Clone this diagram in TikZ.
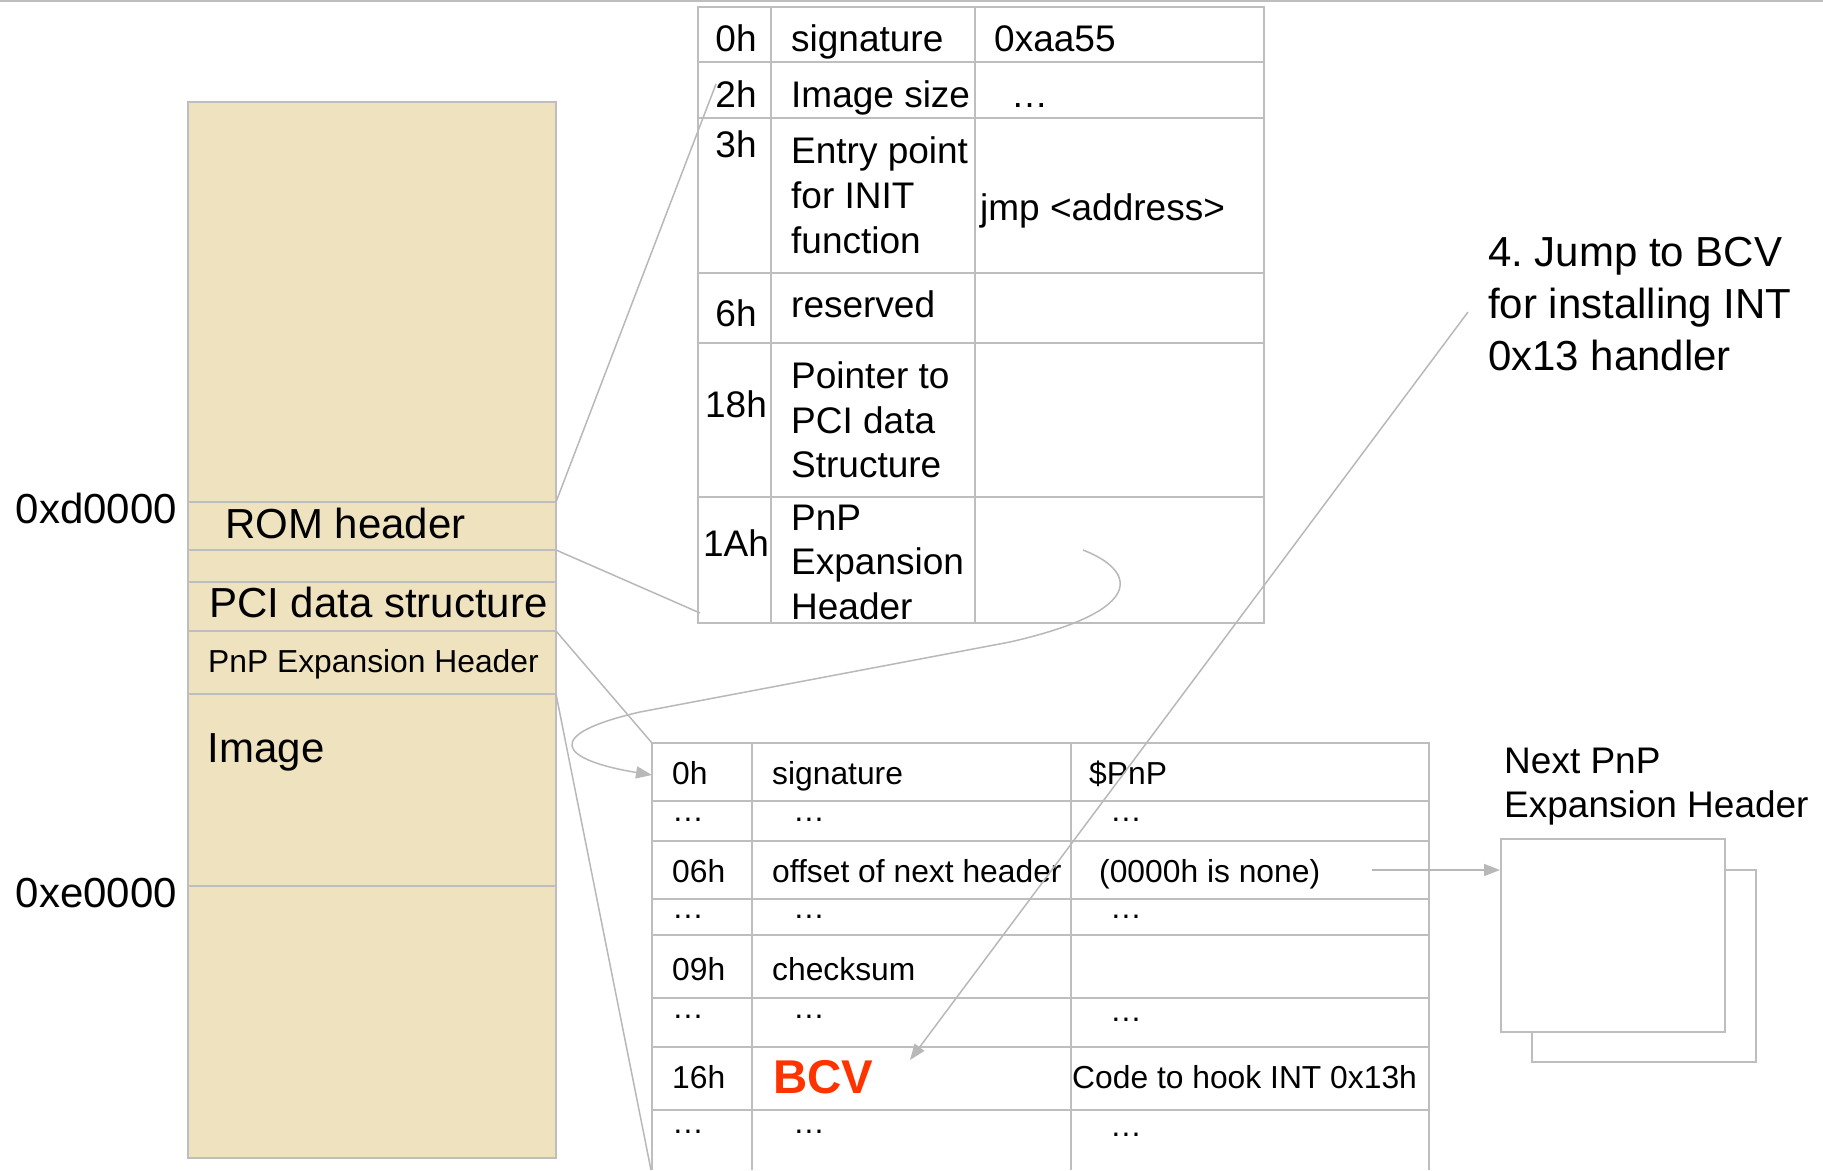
\documentclass[tikz,border=0pt]{standalone}
\usepackage{fontspec}
\setmainfont{Liberation Sans}
\usetikzlibrary{arrows.meta}
\frenchspacing

\definecolor{romtan}{RGB}{239,226,191}
\definecolor{gridgray}{RGB}{190,190,190}
\definecolor{conngray}{RGB}{184,184,184}
\definecolor{bcvred}{RGB}{255,51,0}

\tikzset{
  grid/.style={draw=gridgray, line width=1.7pt},
  conn/.style={draw=conngray, line width=1.5pt},
  tip/.style={-{Triangle[length=16pt,width=12pt,fill=conngray]}},
  txtL/.style={anchor=base west, inner sep=0pt, font=\fontsize{42}{52}\selectfont},
  txtM/.style={anchor=base west, inner sep=0pt, font=\fontsize{37}{45}\selectfont},
  txtMc/.style={anchor=base, inner sep=0pt, font=\fontsize{37}{45}\selectfont},
  txtS/.style={anchor=base west, inner sep=0pt, font=\fontsize{31.8}{38}\selectfont},
}

\begin{document}
\begin{tikzpicture}[x=1pt, y=-1pt]
\useasboundingbox (0,0) rectangle (1823,1170);

% frame line along the top
\draw[grid] (0,1) -- (1823,1);

% ---------- memory map column ----------
\fill[romtan] (188,102) rectangle (556,1158);
\draw[grid] (188,102) rectangle (556,1158);
\foreach \yy in {502,550,582,631,694,886}
  \draw[grid] (188,\yy) -- (556,\yy);

\coordinate (rom-top) at (556,502);
\coordinate (rom-bot) at (556,550);
\coordinate (pnp-top) at (556,631);
\coordinate (img-top) at (556,694);

\node[txtL] (addr-d) at (15.6,523) {0xd0000};
\node[txtL] (addr-e) at (15.6,907) {0xe0000};
\node[txtL] (lbl-rom) at (225,538) {ROM header};
\node[txtL] (lbl-pci) at (209,617) {PCI data structure};
\node[txtS] (lbl-pnp) at (208,672) {PnP Expansion Header};
\node[txtL] (lbl-img) at (207.6,762) {Image};

% ---------- ROM header table ----------
\draw[grid] (698,7) rectangle (1264,623);
\draw[grid] (771,7) -- (771,623);
\draw[grid] (975,7) -- (975,623);
\foreach \yy in {62,118,273,343,497}
  \draw[grid] (698,\yy) -- (1264,\yy);

\coordinate (hdr-a) at (716,84);
\coordinate (hdr-b) at (700,613);
\coordinate (pnp-ptr) at (1083,550);

\node[txtMc] (r0) at (736,51) {0h};
\node[txtMc] (r2) at (736,107) {2h};
\node[txtMc] (r3) at (736,157) {3h};
\node[txtMc] (r6) at (736,326) {6h};
\node[txtMc] (r18) at (736,417) {18h};
\node[txtMc] (r1a) at (736,556) {1Ah};

\node[txtM] (f-sig) at (791,51) {signature};
\node[txtM] (f-size) at (791,107) {Image size};
\node[txtM] (f-ent1) at (791,163) {Entry point};
\node[txtM] (f-ent2) at (791,208) {for INIT};
\node[txtM] (f-ent3) at (791,253) {function};
\node[txtM] (f-res) at (791,317.5) {reserved};
\node[txtM] (f-ptr1) at (791,388) {Pointer to};
\node[txtM] (f-ptr2) at (791,433) {PCI data};
\node[txtM] (f-ptr3) at (791,477.5) {Structure};
\node[txtM] (f-pnp1) at (791,530.6) {PnP};
\node[txtM] (f-pnp2) at (791,574.7) {Expansion};
\node[txtM] (f-pnp3) at (791,619.6) {Header};

\node[txtM] (v-sig) at (994,51) {0xaa55};
\node[txtM] (v-size) at (1011,107) {…};
\node[txtM] (v-jmp) at (980,220) {jmp <address>};

% ---------- PnP expansion header table ----------
\draw[grid] (652,1170) -- (652,743) -- (1429,743) -- (1429,1170);
\draw[grid] (752,743) -- (752,1170);
\draw[grid] (1071,743) -- (1071,1170);
\foreach \yy in {801,841,899,935,998,1047,1110}
  \draw[grid] (652,\yy) -- (1429,\yy);

\coordinate (pnp-tbl) at (652,743);
\coordinate (img-end) at (651,1170);
\coordinate (pnp-entry) at (652,775);
\coordinate (next-from) at (1372,870);
\coordinate (bcv-tip) at (910,1060);

\node[txtS] (p0) at (672,784) {0h};
\node[txtS] (p1) at (672,821) {…};
\node[txtS] (p6) at (672,882) {06h};
\node[txtS] (p7) at (672,918) {…};
\node[txtS] (p9) at (672,980) {09h};
\node[txtS] (p10) at (672,1018) {…};
\node[txtS] (p16) at (672,1088) {16h};
\node[txtS] (p17) at (672,1133) {…};

\node[txtS] (q0) at (772,784) {signature};
\node[txtS] (q1) at (793,821) {…};
\node[txtS] (q6) at (772,882) {offset of next header};
\node[txtS] (q7) at (793,918) {…};
\node[txtS] (q9) at (772,980) {checksum};
\node[txtS] (q10) at (793,1018) {…};
\node[anchor=base west, inner sep=0pt, text=bcvred,
      font=\fontsize{47.4}{56}\selectfont\bfseries] (q16) at (773,1093.5) {BCV};
\node[txtS] (q17) at (793,1133) {…};

\node[txtS] (s0) at (1089,784) {\$PnP};
\node[txtS] (s1) at (1110,821) {…};
\node[txtS] (s6) at (1099,882) {(0000h is none)};
\node[txtS] (s7) at (1110,918) {…};
\node[txtS] (s10) at (1110,1021) {…};
\node[txtS] (s16) at (1072,1088) {Code to hook INT 0x13h};
\node[txtS] (s17) at (1110,1136) {…};

% ---------- next expansion header (stacked boxes) ----------
\draw[grid] (1532,870) rectangle (1756,1062);
\node[grid, fill=white, anchor=north west, minimum width=224pt,
      minimum height=193pt, inner sep=0pt] (nextbox) at (1500,838) {};
\node[txtM] (nx1) at (1504,773) {Next PnP};
\node[txtM] (nx2) at (1504,817) {Expansion Header};

% ---------- jump note ----------
\node[txtL] (j1) at (1488,266) {4. Jump to BCV};
\node[txtL] (j2) at (1488,318) {for installing INT};
\node[txtL] (j3) at (1488,370) {0x13 handler};
\coordinate (jump-from) at (1468,312);

% ---------- connectors ----------
\draw[conn] (rom-top) -- (hdr-a);
\draw[conn] (rom-bot) -- (hdr-b);
\draw[conn] (pnp-top) -- (pnp-tbl);
\draw[conn] (img-top) -- (img-end);
\draw[conn, tip] (pnp-ptr) .. controls (1135,570) and (1150,610) .. (1010,642)
  -- (640,712) .. controls (540,735) and (560,760) .. (pnp-entry);
\draw[conn, tip] (next-from) -- (next-from -| nextbox.west);
\draw[conn, tip] (jump-from) -- (bcv-tip);

\end{tikzpicture}
\end{document}
